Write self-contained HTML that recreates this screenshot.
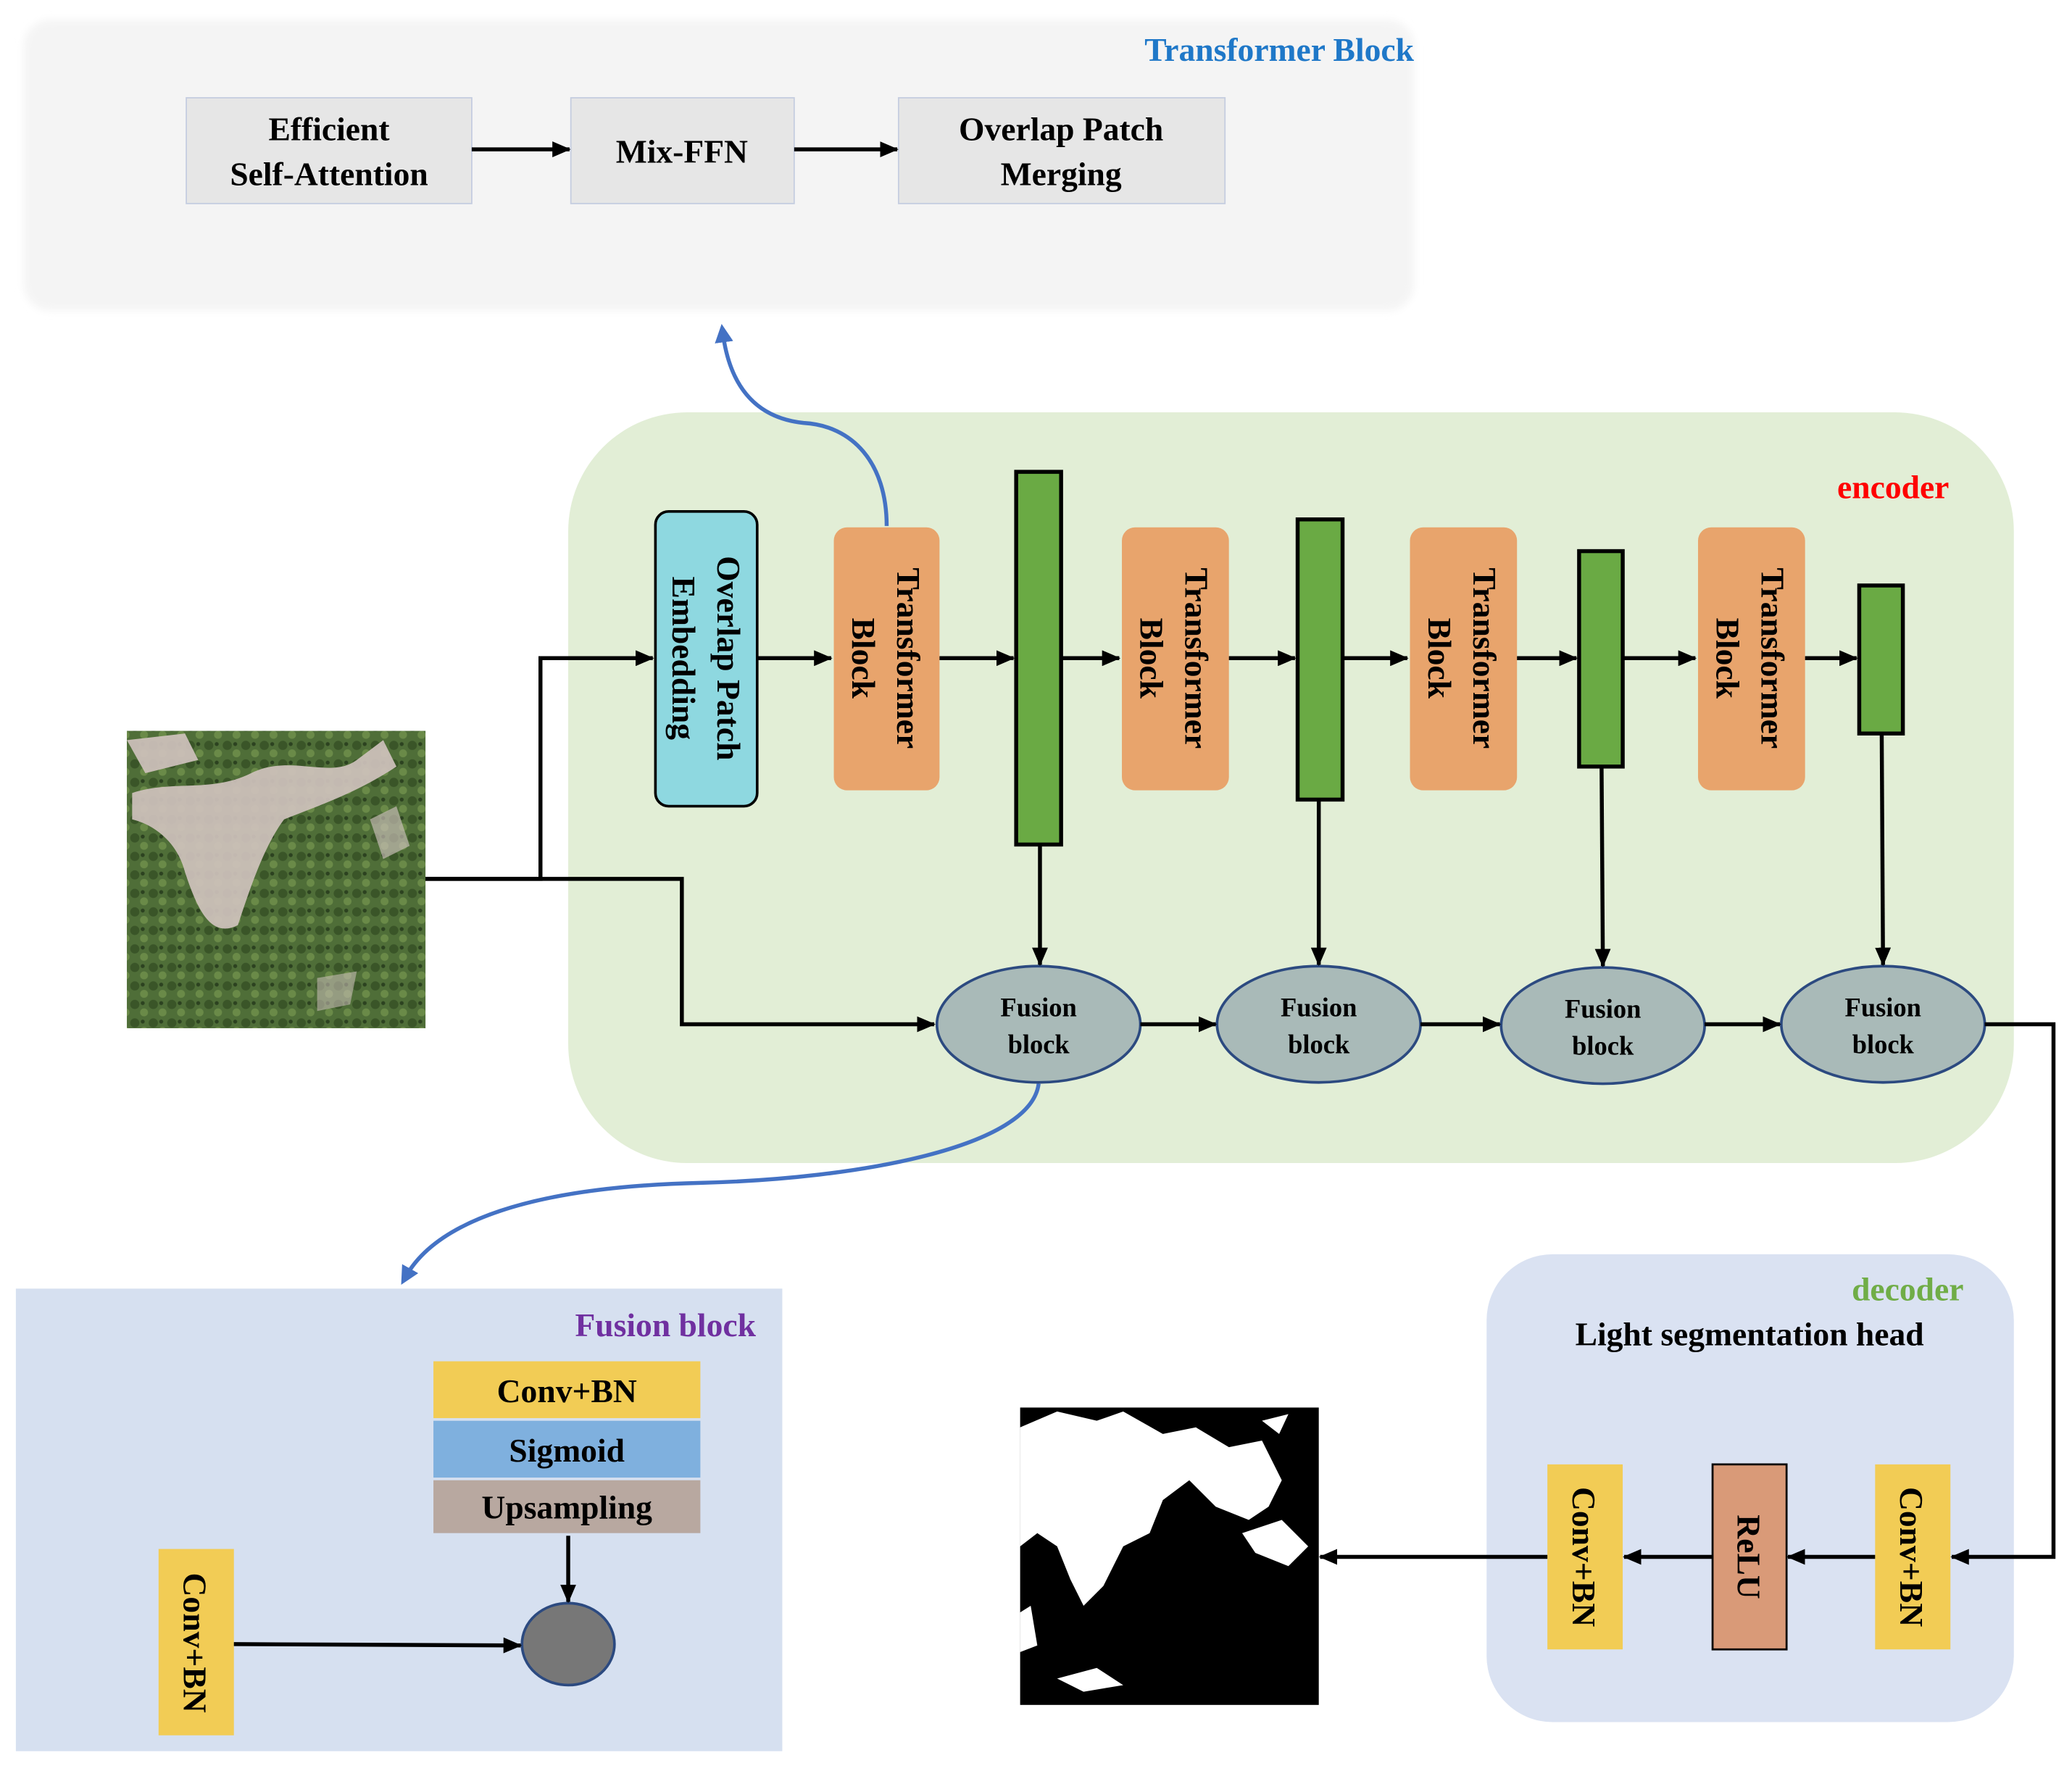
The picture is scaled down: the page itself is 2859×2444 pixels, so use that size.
<!DOCTYPE html>
<html><head><meta charset="utf-8"><style>html,body{margin:0;padding:0;background:#fff}svg{display:block}</style></head><body>
<svg width="2859" height="2444" viewBox="0 0 1568 1340" preserveAspectRatio="none" xmlns="http://www.w3.org/2000/svg" font-family="'Liberation Serif', serif" font-weight="bold">
<defs>
<marker id="a" markerWidth="14" markerHeight="12" refX="13" refY="6" orient="auto" markerUnits="userSpaceOnUse"><path d="M0,0 L14,6 L0,12 Z" fill="#000"/></marker>
<marker id="b" markerWidth="14" markerHeight="14" refX="7" refY="7" orient="auto" markerUnits="userSpaceOnUse"><path d="M0,0 L14,7 L0,14 Z" fill="#4472c4"/></marker>
<filter id="f"><feGaussianBlur stdDeviation="3"/></filter>
<pattern id="tex" width="14" height="14" patternUnits="userSpaceOnUse"><rect width="14" height="14" fill="#4f6e38"/><circle cx="4" cy="4" r="3.5" fill="#3a5528"/><circle cx="11" cy="10" r="3" fill="#6a8a48"/><circle cx="10" cy="3" r="1.5" fill="#2c4220"/></pattern>
</defs>
<!-- Transformer block panel -->
<rect x="18" y="15" width="1052" height="220" rx="20" fill="#f4f4f4" filter="url(#f)"/>
<text x="1070" y="46" text-anchor="end" font-size="25" fill="#1f78c8">Transformer Block</text>
<rect x="141" y="74" width="216" height="80" fill="#e6e6e6" stroke="#c5cde0"/>
<text x="249" y="106" text-anchor="middle" font-size="25">Efficient</text>
<text x="249" y="140" text-anchor="middle" font-size="25">Self-Attention</text>
<rect x="432" y="74" width="169" height="80" fill="#e6e6e6" stroke="#c5cde0"/>
<text x="516" y="123" text-anchor="middle" font-size="25">Mix-FFN</text>
<rect x="680" y="74" width="247" height="80" fill="#e6e6e6" stroke="#c5cde0"/>
<text x="803" y="106" text-anchor="middle" font-size="25">Overlap Patch</text>
<text x="803" y="140" text-anchor="middle" font-size="25">Merging</text>
<!-- encoder -->
<rect x="430" y="312" width="1094" height="568" rx="90" fill="#e2eed6"/>
<text x="1475" y="377" text-anchor="end" font-size="25" fill="#ff0000">encoder</text>
<rect x="496" y="387" width="77" height="223" rx="10" fill="#8ed8e0" stroke="#000" stroke-width="2"/>
<g font-size="25">
<text transform="translate(543,498) rotate(90)" text-anchor="middle">Overlap Patch</text>
<text transform="translate(509,498) rotate(90)" text-anchor="middle">Embedding</text>
</g>
<g fill="#e8a46c">
<rect x="631" y="399" width="80" height="199" rx="10"/>
<rect x="849" y="399" width="81" height="199" rx="10"/>
<rect x="1067" y="399" width="81" height="199" rx="10"/>
<rect x="1285" y="399" width="81" height="199" rx="10"/>
</g>
<g font-size="25">
<text transform="translate(679,498) rotate(90)" text-anchor="middle">Transformer</text>
<text transform="translate(645,498) rotate(90)" text-anchor="middle">Block</text>
<text transform="translate(897,498) rotate(90)" text-anchor="middle">Transformer</text>
<text transform="translate(863,498) rotate(90)" text-anchor="middle">Block</text>
<text transform="translate(1115,498) rotate(90)" text-anchor="middle">Transformer</text>
<text transform="translate(1081,498) rotate(90)" text-anchor="middle">Block</text>
<text transform="translate(1333,498) rotate(90)" text-anchor="middle">Transformer</text>
<text transform="translate(1299,498) rotate(90)" text-anchor="middle">Block</text>
</g>
<g fill="#6aaa44" stroke="#000" stroke-width="3">
<rect x="769" y="357" width="34" height="282"/>
<rect x="982" y="393" width="34" height="212"/>
<rect x="1195" y="417" width="33" height="163"/>
<rect x="1407" y="443" width="33" height="112"/>
</g>
<g fill="#a9bab8" stroke="#2c4a80" stroke-width="2">
<ellipse cx="786" cy="775" rx="77" ry="44"/>
<ellipse cx="998" cy="775" rx="77" ry="44"/>
<ellipse cx="1213" cy="776" rx="77" ry="44"/>
<ellipse cx="1425" cy="775" rx="77" ry="44"/>
</g>
<g font-size="20" text-anchor="middle">
<text x="786" y="769">Fusion</text><text x="786" y="797">block</text>
<text x="998" y="769">Fusion</text><text x="998" y="797">block</text>
<text x="1213" y="770">Fusion</text><text x="1213" y="798">block</text>
<text x="1425" y="769">Fusion</text><text x="1425" y="797">block</text>
</g>
<!-- aerial image -->
<rect x="96" y="553" width="226" height="225" fill="url(#tex)"/>
<g fill="#cfc2bd" opacity=".92">
<path d="M100,600 C130,590 160,600 190,585 C220,570 250,590 270,575 L290,560 L300,580 C270,600 240,610 215,620 C200,640 190,670 180,700 C160,710 150,690 140,660 C135,640 120,625 100,620 Z"/>
<path d="M96,560 L140,555 L150,575 L110,585 Z"/>
<path d="M280,620 L300,610 L310,640 L290,650 Z" opacity=".7"/>
<path d="M240,740 L270,735 L265,760 L240,765 Z" opacity=".6"/>
</g>
<!-- decoder -->
<rect x="1125" y="949" width="399" height="354" rx="50" fill="#dae2f2"/>
<text x="1486" y="984" text-anchor="end" font-size="25" fill="#70ad47">decoder</text>
<text x="1324" y="1018" text-anchor="middle" font-size="25">Light segmentation head</text>
<rect x="1419" y="1108" width="57" height="140" fill="#f2cc55"/>
<rect x="1171" y="1108" width="57" height="140" fill="#f2cc55"/>
<rect x="1296" y="1108" width="56" height="140" fill="#d99a78" stroke="#000" stroke-width="1.5"/>
<g font-size="25">
<text transform="translate(1438,1178) rotate(90)" text-anchor="middle">Conv+BN</text>
<text transform="translate(1190,1178) rotate(90)" text-anchor="middle">Conv+BN</text>
<text transform="translate(1315,1178) rotate(90)" text-anchor="middle">ReLU</text>
</g>
<!-- mask -->
<rect x="772" y="1065" width="226" height="225" fill="#000"/>
<g fill="#fff">
<path d="M772,1080 L800,1068 L830,1075 L850,1068 L880,1085 L905,1080 L930,1095 L955,1090 L970,1120 L960,1140 L945,1150 L920,1140 L900,1120 L880,1135 L870,1160 L850,1170 L835,1200 L820,1215 L810,1195 L800,1170 L785,1160 L772,1170 Z"/>
<path d="M940,1160 L970,1150 L990,1170 L975,1185 L950,1175 Z"/>
<path d="M800,1270 L830,1262 L850,1275 L820,1280 Z"/>
<path d="M772,1220 L780,1215 L785,1245 L772,1250 Z"/>
<path d="M955,1075 L975,1070 L968,1085 Z"/>
</g>
<!-- fusion block panel -->
<rect x="12" y="975" width="580" height="350" fill="#d6e0f0"/>
<text x="572" y="1011" text-anchor="end" font-size="25" fill="#7030a0">Fusion block</text>
<rect x="328" y="1030" width="202" height="43" fill="#f2cc55"/>
<rect x="328" y="1075" width="202" height="43" fill="#7fb0de"/>
<rect x="328" y="1120" width="202" height="40" fill="#b8a8a0"/>
<g font-size="25" text-anchor="middle">
<text x="429" y="1061">Conv+BN</text>
<text x="429" y="1106">Sigmoid</text>
<text x="429" y="1149">Upsampling</text>
</g>
<rect x="120" y="1172" width="57" height="141" fill="#f2cc55"/>
<text transform="translate(139,1243) rotate(90)" text-anchor="middle" font-size="25">Conv+BN</text>
<ellipse cx="430" cy="1244" rx="35" ry="31" fill="#777" stroke="#2c4a80" stroke-width="2"/>
<!-- all black connectors -->
<g stroke="#000" stroke-width="3" fill="none" marker-end="url(#a)">
<line x1="357" y1="113" x2="431" y2="113"/>
<line x1="601" y1="113" x2="679" y2="113"/>
<line x1="573" y1="498" x2="629" y2="498"/>
<line x1="711" y1="498" x2="767" y2="498"/>
<line x1="803" y1="498" x2="847" y2="498"/>
<line x1="930" y1="498" x2="980" y2="498"/>
<line x1="1016" y1="498" x2="1065" y2="498"/>
<line x1="1148" y1="498" x2="1193" y2="498"/>
<line x1="1228" y1="498" x2="1283" y2="498"/>
<line x1="1366" y1="498" x2="1405" y2="498"/>
<polyline points="322,665 409,665 409,498 494,498"/>
<polyline points="322,665 516,665 516,775 707,775"/>
<line x1="787" y1="639" x2="787" y2="730"/>
<line x1="998" y1="605" x2="998" y2="730"/>
<line x1="1212" y1="580" x2="1213" y2="731"/>
<line x1="1424" y1="555" x2="1425" y2="730"/>
<line x1="863" y1="775" x2="920" y2="775"/>
<line x1="1075" y1="775" x2="1135" y2="775"/>
<line x1="1290" y1="775" x2="1347" y2="775"/>
<polyline points="1502,775 1554,775 1554,1178 1477,1178"/>
<line x1="1419" y1="1178" x2="1353" y2="1178"/>
<line x1="1296" y1="1178" x2="1229" y2="1178"/>
<line x1="1171" y1="1178" x2="999" y2="1178"/>
<line x1="430" y1="1162" x2="430" y2="1212"/>
<line x1="177" y1="1244" x2="394" y2="1245"/>
</g>
<!-- blue curves -->
<g stroke="#4472c4" stroke-width="3" fill="none" marker-end="url(#b)">
<path d="M671,398 C671,350 645,322 608,320 C570,316 552,290 547,252"/>
<path d="M786,820 C780,868 650,892 530,895 C400,898 330,925 307,966"/>
</g>
</svg>
</body></html>
